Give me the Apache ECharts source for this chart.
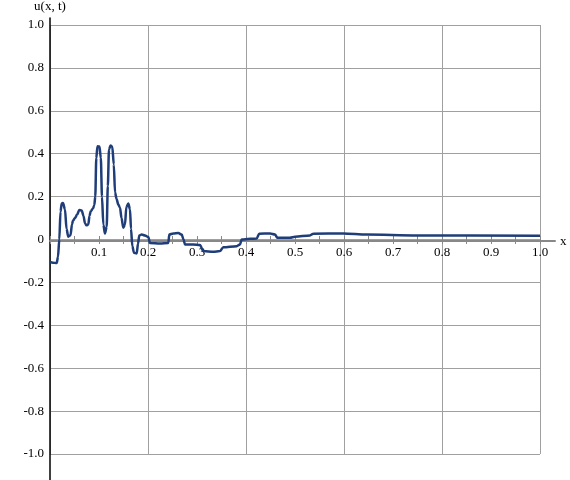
<!DOCTYPE html>
<html lang="en">
<head>
    <meta charset="utf-8">
    <script src="https://cdn.jsdelivr.net/npm/echarts@6/dist/echarts.min.js"></script>
    <style>
        html, body { margin: 0; padding: 0; background: #fff; }
        #chart { width: 570px; height: 480px; }
    </style>
</head>
<body>
    <div id="chart"></div>
    <script>
        // solution u(x, t)
        const xs = [0, 0.006, 0.0137, 0.0163, 0.019, 0.0214, 0.0239, 0.0265, 0.0306, 0.0337,
            0.0373, 0.0418, 0.0449, 0.0469, 0.051, 0.0551, 0.0598, 0.0647, 0.0684, 0.0714,
            0.0745, 0.0782, 0.0806, 0.0831, 0.0878, 0.0904, 0.0924, 0.0945, 0.0969, 0.101,
            0.1037, 0.1061, 0.1088, 0.1122, 0.1157, 0.118, 0.1204, 0.1235, 0.1271, 0.1302,
            0.1327, 0.1357, 0.1394, 0.1429, 0.1459, 0.1496, 0.1531, 0.1557, 0.1598, 0.1633,
            0.1653, 0.168, 0.1714, 0.1769, 0.1796, 0.1822, 0.1871, 0.1939, 0.2006, 0.2041,
            0.2245, 0.2414, 0.2435, 0.2516, 0.2618, 0.2688, 0.2724, 0.2755, 0.2924, 0.3061,
            0.3129, 0.3333, 0.3469, 0.3537, 0.381, 0.3878, 0.3912, 0.4082, 0.4218, 0.4271,
            0.449, 0.4592, 0.4639, 0.4898, 0.5, 0.5306, 0.5373, 0.5986, 0.6463, 0.7484, 1.0];
        const us = [-0.104, -0.108, -0.11, -0.08, 0.0, 0.13, 0.168, 0.17, 0.14, 0.05,
            0.013, 0.02, 0.07, 0.088, 0.1, 0.115, 0.137, 0.135, 0.11, 0.075,
            0.066, 0.07, 0.11, 0.132, 0.145, 0.16, 0.2, 0.38, 0.435, 0.433,
            0.38, 0.2, 0.07, 0.028, 0.06, 0.25, 0.42, 0.438, 0.432, 0.35,
            0.22, 0.19, 0.163, 0.148, 0.1, 0.055, 0.07, 0.15, 0.168, 0.14,
            0.05, -0.03, -0.062, -0.065, -0.02, 0.019, 0.023, 0.019, 0.012, -0.016,
            -0.019, -0.016, 0.023, 0.028, 0.03, 0.023, 0.0, -0.023, -0.023, -0.026,
            -0.054, -0.057, -0.054, -0.036, -0.031, -0.023, 0.0, 0.003, 0.005, 0.027,
            0.028, 0.023, 0.008, 0.008, 0.013, 0.019, 0.027, 0.028, 0.023, 0.019, 0.017];

        const font = 'Liberation Serif';
        const tickColor = '#888';
        // hidden y axis for the helper grids
        const blankY = (g) => ({
            gridIndex: g, type: 'value', min: 0, max: 1,
            axisLine: { show: false }, axisTick: { show: false },
            axisLabel: { show: false }, splitLine: { show: false }
        });
        let chart = echarts.init(document.getElementById('chart'));
        chart.setOption({
            animation: false,
            grid: [
                { left: 50, right: 30, top: 25, bottom: 26 },
                // wider box only for the long axis lines
                { left: 50, right: 15, top: 15, bottom: 0 },
                // box whose lower edge is y = 0 : labels and lower ticks
                { left: 50, right: 30, top: 25, bottom: 240 },
                // box whose upper edge is y = 0 : upper ticks
                { left: 50, right: 30, top: 240, bottom: 26 }
            ],
            xAxis: [
                {
                    gridIndex: 0, type: 'value', min: 0, max: 1, interval: 0.2,
                    axisLine: { show: false }, axisTick: { show: false }, axisLabel: { show: false },
                    splitLine: { show: true, lineStyle: { color: '#a0a0a0', width: 1 } }
                },
                {
                    gridIndex: 1, type: 'value', min: 0, max: 505 / 490,
                    axisLine: { show: true, onZero: true, lineStyle: { color: '#888', width: 2 } },
                    axisTick: { show: false }, axisLabel: { show: false }, splitLine: { show: false },
                    name: 'x', nameLocation: 'end', nameGap: 5,
                    nameTextStyle: { color: '#000', fontFamily: font, fontSize: 13 }
                },
                {
                    gridIndex: 2, type: 'value', position: 'bottom', min: 0, max: 1, interval: 0.1,
                    axisLine: { show: false, onZero: false },
                    axisTick: { show: true, length: 4, lineStyle: { color: tickColor } },
                    minorTick: { show: true, splitNumber: 2, length: 4, lineStyle: { color: tickColor } },
                    axisLabel: {
                        margin: 6, color: '#000', fontFamily: font, fontSize: 13,
                        showMinLabel: false, showMaxLabel: true,
                        formatter: v => v === 0 ? '' : v.toFixed(1)
                    },
                    splitLine: { show: false }
                },
                {
                    gridIndex: 3, type: 'value', position: 'top', min: 0, max: 1, interval: 0.1,
                    axisLine: { show: false, onZero: false },
                    axisTick: { show: true, length: 4, lineStyle: { color: tickColor } },
                    minorTick: { show: true, splitNumber: 2, length: 4, lineStyle: { color: tickColor } },
                    axisLabel: { show: false }, splitLine: { show: false }
                }
            ],
            yAxis: [
                {
                    gridIndex: 0, type: 'value', min: -1, max: 1, interval: 0.2,
                    axisLine: { show: false }, axisTick: { show: false },
                    axisLabel: {
                        margin: 6, color: '#000', fontFamily: font, fontSize: 13,
                        formatter: v => Math.abs(v) < 1e-9 ? '0' : v.toFixed(1)
                    },
                    splitLine: { show: true, lineStyle: { color: '#a0a0a0', width: 1 } }
                },
                {
                    gridIndex: 1, type: 'value', min: -1.12, max: 1.047,
                    axisLine: { show: true, onZero: false, lineStyle: { color: '#000', width: 1.5 } },
                    axisTick: { show: false }, axisLabel: { show: false }, splitLine: { show: false },
                    name: 'u(x, t)', nameLocation: 'end', nameGap: 5,
                    nameTextStyle: { color: '#000', fontFamily: font, fontSize: 13 }
                },
                blankY(2),
                blankY(3)
            ],
            series: [{
                type: 'line',
                xAxisIndex: 0,
                yAxisIndex: 0,
                data: xs.map((x, i) => [x, us[i]]),
                showSymbol: false,
                smooth: 0.3,
                smoothMonotone: 'x',
                z: 10,
                lineStyle: { color: '#1f3d78', width: 2.5 }
            }]
        });
    </script>
</body>
</html>
